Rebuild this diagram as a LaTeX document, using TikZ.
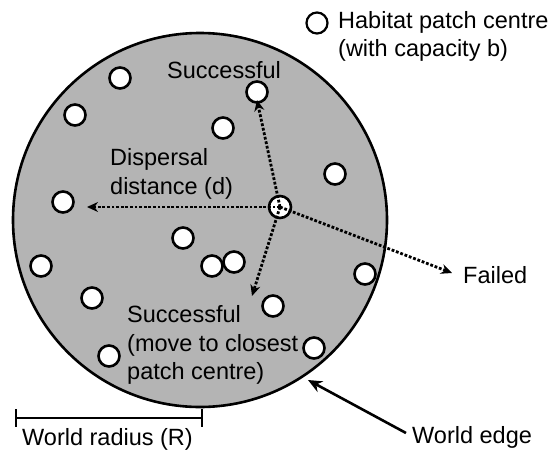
\documentclass[tikz,border=0pt]{standalone}
\usepackage{fontspec}
\setmainfont{Liberation Sans}
\usetikzlibrary{arrows.meta}
\definecolor{worldgray}{RGB}{180,180,180}
\begin{document}
\begin{tikzpicture}[x=1pt,y=-1pt,
  patch/.style={circle,draw=black,fill=white,line width=2.6pt,minimum size=21pt,inner sep=0pt},
  lbl/.style={inner sep=0pt,font=\fontsize{23.5}{28.5}\selectfont,align=left},
  disp/.style={line width=2.8pt,dash pattern=on 2.8pt off 1.8pt,-{Stealth[length=11pt,width=10pt]}},
  solidarrow/.style={line width=2.6pt,-{Stealth[length=14pt,width=12pt]}}]
\useasboundingbox (0,0) rectangle (554,458);
% world
\node[circle,draw=black,fill=worldgray,line width=2.6pt,minimum size=374pt,inner sep=0pt] (world) at (200,220) {};
% patches
\node[patch] (p1) at (120,78) {};
\node[patch] (p2) at (75,115) {};
\node[patch] (p3) at (257,92) {};
\node[patch] (p4) at (223,128) {};
\node[patch] (p5) at (335,174) {};
\node[patch] (p6) at (63,202) {};
\node[patch] (p7) at (183,238) {};
\node[patch] (p8) at (212,266) {};
\node[patch] (p9) at (234,262) {};
\node[patch] (p10) at (41,266) {};
\node[patch] (p11) at (365,274) {};
\node[patch] (p12) at (92,298) {};
\node[patch] (p13) at (273,306) {};
\node[patch] (p14) at (314,348) {};
\node[patch] (p15) at (109,356) {};
% source
\node[circle,fill=white,minimum size=22pt,inner sep=0pt] (srcbg) at (280,207) {};
\coordinate (src) at (280,207);
\coordinate (tleft) at (87,207);
\coordinate (tdown) at (252,296);
\coordinate (tfail) at (452,273);
\coordinate (ttop) at (257,100);
\draw[disp] (src) -- (ttop);
\draw[disp] (src) -- (tleft);
\draw[disp] (src) -- (tdown);
\draw[disp] (src) -- (tfail);
\node[circle,draw=black,line width=2.6pt,minimum size=22pt,inner sep=0pt] (source) at (src) {};
% labels
\node[lbl,anchor=west] (succtop) at (167,70) {Successful};
\node[lbl,anchor=west] (displbl) at (110,174) {Dispersal\\distance (d)};
\node[lbl,anchor=west] (succlow) at (127,345) {Successful\\(move to closest\\patch centre)};
\node[lbl,anchor=west] (failed) at (463,275) {Failed};
% legend
\node[patch,line width=2.2pt,minimum size=21pt] (legend) at (317,23) {};
\node[lbl,anchor=west] (legendtxt) at (338,36.5) {Habitat patch centre\\(with capacity b)};
% world edge
\node[lbl,anchor=west] (edgelbl) at (412,437) {World edge};
\coordinate (edgetip) at (308,380);
\draw[solidarrow] (edgelbl.west) ++(-6,-4) -- (edgetip);
% radius bar
\coordinate (rb1) at (16,418);
\coordinate (rb2) at (202,418);
\draw[line width=2.4pt] (rb1) -- (rb2);
\draw[line width=2.4pt] (rb1) ++(0,-9) -- ++(0,18);
\draw[line width=2.4pt] (rb2) ++(0,-9) -- ++(0,18);
\node[lbl,anchor=west] (radlbl) at (22,439) {World radius (R)};
\end{tikzpicture}
\end{document}
